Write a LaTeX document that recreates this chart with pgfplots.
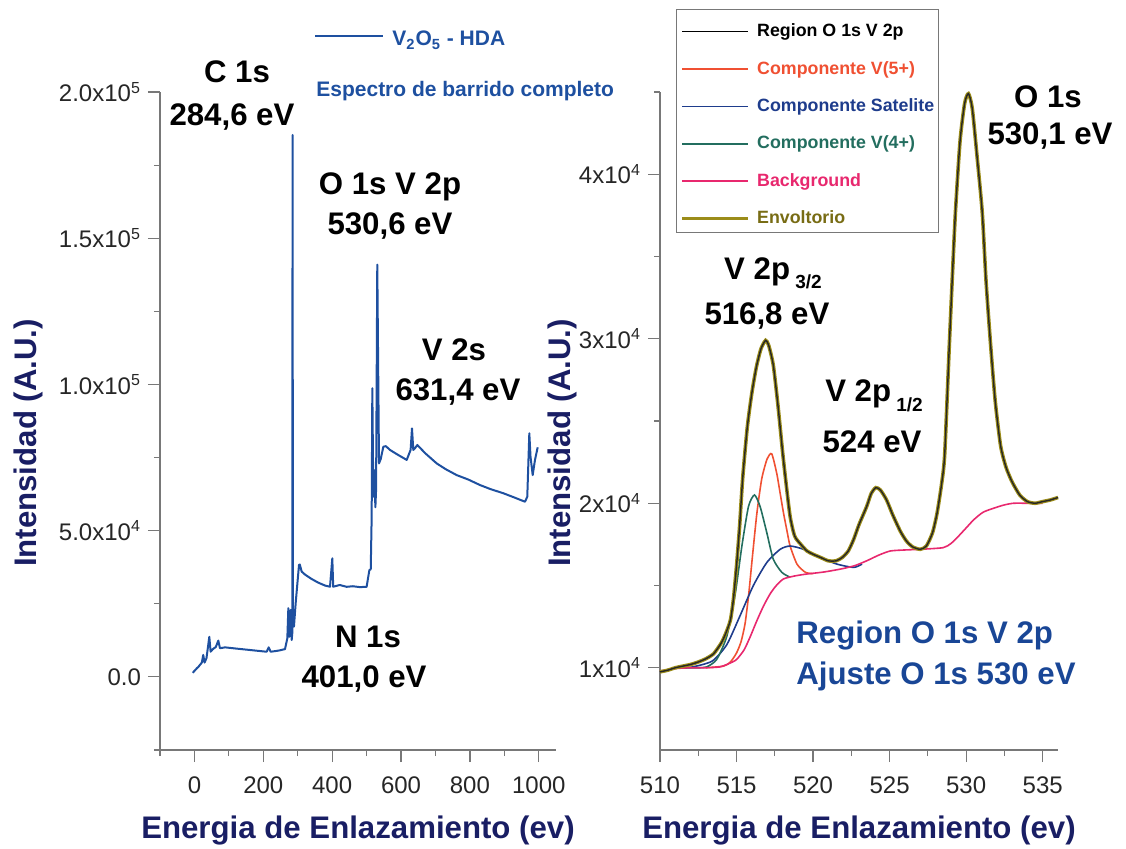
\documentclass[border=0pt]{standalone}
\usepackage{pgfplots}
\pgfplotsset{compat=1.18}
\usepackage{fontspec}
\setmainfont{Liberation Sans}
\definecolor{axisgray}{RGB}{120,120,120}
\definecolor{navy}{RGB}{25,30,100}
\definecolor{survey}{RGB}{30,80,160}
\definecolor{annblue}{RGB}{25,70,150}
\definecolor{v5}{RGB}{240,80,50}
\definecolor{sat}{RGB}{30,60,140}
\definecolor{v4}{RGB}{35,110,95}
\definecolor{bgc}{RGB}{232,40,110}
\definecolor{env}{RGB}{155,140,25}
\definecolor{envtext}{RGB}{120,108,20}
\newcommand{\bigf}{\fontsize{15.6}{18}\bfseries\selectfont}
\pgfplotsset{
  myaxis/.style={
    scale only axis,
    axis x line*=bottom, axis y line*=left,
    axis line style={draw=axisgray, line width=0.6pt},
    every tick/.style={draw=axisgray, line width=0.6pt},
    tick align=outside,
    major tick length=6pt, minor tick length=3pt,
    tick label style={font=\fontsize{12}{14}\selectfont, text=black!85},
    xticklabel style={yshift=-4pt},
    /pgf/number format/assume math mode=true,
    /pgf/number format/1000 sep={},
    scaled y ticks=false,
    clip=false,
    every axis x label/.style={at={(rel axis cs:0.5,-0.1216)}, anchor=center, font=\bigf, text=navy},
  }
}
\begin{document}
\begin{tikzpicture}
\path[use as bounding box] (0,0) rectangle (563pt,424pt);
% ---------------- left panel ----------------
\begin{axis}[myaxis,
  at={(80pt,49pt)}, anchor=south west, width=198pt, height=329pt,
  xmin=-100, xmax=1050, ymin=-25000, ymax=200000,
  xtick={0,200,400,600,800,1000}, minor xtick={-100,100,300,500,700,900},
  ytick={0,50000,100000,150000,200000},
  yticklabels={0.0,5.0x10\textsuperscript{4},1.0x10\textsuperscript{5},1.5x10\textsuperscript{5},2.0x10\textsuperscript{5}},
  minor ytick={-25000,25000,75000,125000,175000},
  xlabel={Energia de Enlazamiento (ev)},
  ylabel={Intensidad (A.U.)},
  every axis y label/.style={at={(rel axis cs:-0.333,0.4666)}, anchor=center, rotate=90, font=\bigf, text=navy},
  legend style={at={(rel axis cs:0.3889,1.0790)}, anchor=west, draw=none, fill=none, inner sep=0pt,
    font=\fontsize{10.5}{12}\bfseries\selectfont, text=survey, column sep=2pt},
  legend image code/.code={\draw[#1] (0pt,2pt) -- (34pt,2pt);},
]
\addplot[survey, line width=1pt, line join=round] coordinates {
(-5,1400) (2,2300) (6.6,2900) (12,3500) (16,4100) (21.6,4900) (25.5,7500) (29.4,4900)
(35,6400) (43.2,13700) (47,8600) (52,9300) (56.8,9800) (62,10200) (69.3,12400) (74.2,9800)
(88.8,10100) (120,9700) (161,9200) (209.8,8600) (215.6,10100) (221.4,8600) (245,9000)
(263,9500) (269.8,13200) (272.7,23500) (275.6,13700) (279.5,22900) (282.4,12600)
(284.2,15000) (285,185300) (286,22000) (289,17200) (294,25200) (299,32000) (303.7,38300)
(306,38400) (311.5,36000) (321,35000) (340,33500) (360,32200) (380,31200) (393.7,30840)
(400.4,40550) (403,30840) (422,31420) (442,30800) (460,31000) (480,30700) (500,30800)
(508,36500) (512,36800) (514.7,54800) (516.6,98700) (519.5,61600) (522,70700)
(525.5,58000) (527.5,64000) (531,141000) (536,73000) (541,74500) (548.6,78700)
(556,78900) (568,77600) (590,76000) (616.4,74200) (627.8,77600) (631.8,85000)
(635.6,77600) (640.5,78200) (647.3,79300) (670,76500) (703.5,73000) (730,71000)
(761.5,69000) (795,67500) (829.3,65600) (860,64200) (897,62800) (930,61300) (960,59900)
(966.6,61600) (972.5,83300) (976,75300) (982.3,69000) (989,74200) (996.8,78500)
};
\addlegendentry{V\textsubscript{2}O\textsubscript{5} - HDA}
\node[anchor=base, font=\bigf] at (rel axis cs:0.1944,1.0137) {C 1s};
\node[anchor=base, font=\bigf] at (rel axis cs:0.1818,0.9498) {284,6 eV};
\node[anchor=base, font=\bigf] at (rel axis cs:0.5808,0.8435) {O 1s V 2p};
\node[anchor=base, font=\bigf] at (rel axis cs:0.5808,0.7827) {530,6 eV};
\node[anchor=base, font=\bigf] at (rel axis cs:0.7424,0.5927) {V 2s};
\node[anchor=base, font=\bigf] at (rel axis cs:0.7525,0.5319) {631,4 eV};
\node[anchor=base, font=\bigf] at (rel axis cs:0.5253,0.1565) {N 1s};
\node[anchor=base, font=\bigf] at (rel axis cs:0.5152,0.0957) {401,0 eV};
\node[anchor=base west, inner sep=0pt, font=\fontsize{10.5}{12}\bfseries\selectfont, text=survey]
  at (rel axis cs:0.3939,0.9939) {Espectro de barrido completo};
\end{axis}
% ---------------- right panel ----------------
\begin{axis}[myaxis,
  at={(330pt,49pt)}, anchor=south west, width=199pt, height=329pt,
  xmin=510, xmax=536, ymin=5000, ymax=45000,
  xtick={510,515,520,525,530,535}, minor xtick={512.5,517.5,522.5,527.5,532.5},
  ytick={10000,20000,30000,40000},
  yticklabels={1x10\textsuperscript{4},2x10\textsuperscript{4},3x10\textsuperscript{4},4x10\textsuperscript{4}},
  minor ytick={15000,25000,35000,45000},
  xlabel={Energia de Enlazamiento (ev)},
  ylabel={Intensidad (A.U.)},
  every axis y label/.style={at={(rel axis cs:-0.246,0.4666)}, anchor=center, rotate=90, font=\bigf, text=navy},
  legend style={at={(rel axis cs:0.0402,1.1261)}, anchor=north west, draw=axisgray, fill=white,
    line width=0.6pt, inner xsep=2pt, inner ysep=2.5pt,
    font=\fontsize{8.9}{10}\bfseries\selectfont, row sep=5.7pt, column sep=3.5pt,
    nodes={inner sep=0pt, text height=11pt, text depth=2pt}},
  legend cell align=left,
  legend image code/.code={\draw[#1] (0pt,-2pt) -- (33pt,-2pt);},
]
\addplot[black, line width=0.7pt, smooth, tension=0.4] coordinates {
(510.0,9750) (510.5,9850) (511.0,10000) (511.5,10100) (512.0,10200) (512.5,10350) (513.0,10550)
(513.5,10850) (514.0,11500) (514.3,12100) (514.6,12900) (514.8,14200) (515.0,16200) (515.2,18600)
(515.4,21500) (515.7,24600) (516.0,26700) (516.3,28300) (516.6,29400) (516.9,29900) (517.1,29600)
(517.4,28400) (517.7,26000) (518.0,23200) (518.2,21500) (518.5,19200) (518.8,18000) (519.2,17500)
(519.6,17100) (520.0,16900) (520.5,16700) (521.0,16500) (521.5,16500) (521.9,16700) (522.3,17100)
(522.65,17800) (523.0,18700) (523.5,19800) (523.8,20600) (524.1,20950) (524.4,20800) (524.8,20200)
(525.2,19300) (525.7,18300) (526.1,17700) (526.5,17350) (527.0,17200) (527.4,17400) (527.8,18200)
(528.1,19400) (528.4,21200) (528.6,23000) (528.9,29600) (529.1,33800) (529.3,37700) (529.6,42000)
(529.9,44300) (530.15,44900) (530.4,44000) (530.7,41200) (531.05,37700) (531.3,33500) (531.6,29600)
(531.9,26200) (532.25,23500) (532.6,22200) (533.0,21300) (533.5,20500) (534.0,20100) (534.5,20000)
(535.0,20100) (535.5,20200) (536.0,20350)
};
\addlegendentry{Region O 1s V 2p}
\addplot[v5, line width=0.8pt, smooth, tension=0.4] coordinates {
(513.0,10000) (514.15,10100) (514.6,10350) (515.0,10900) (515.3,11600) (515.56,12700) (515.8,14500)
(516.0,16400) (516.33,19400) (516.65,21500) (517.0,22700) (517.3,23000) (517.63,21800) (517.85,20600)
(518.07,19400) (518.3,18300) (518.5,17400) (518.95,16300) (519.5,15800) (520.0,15720)
};
\addlegendentry{\textcolor{v5}{Componente V(5+)}}
\addplot[sat, line width=0.8pt, smooth, tension=0.4] coordinates {
(511.0,10000) (511.96,10020) (513.4,10400) (514.36,11400) (515.2,13100) (516.1,15000) (516.98,16400)
(517.85,17200) (518.5,17400) (519.38,17200) (520.47,16700) (521.56,16300) (522.65,16100) (523.2,16300)
};
\addlegendentry{\textcolor{sat}{Componente Satelite}}
\addplot[v4, line width=0.8pt, smooth, tension=0.4] coordinates {
(511.5,10000) (512.5,10000) (513.05,10050) (513.7,10500) (514.36,11900) (514.9,14400) (515.35,17400)
(515.78,19800) (516.17,20500) (516.54,19800) (516.98,18200) (517.4,16600) (517.96,15800) (518.5,15500)
};
\addlegendentry{\textcolor{v4}{Componente V(4+)}}
\addplot[bgc, line width=0.8pt, smooth, tension=0.4] coordinates {
(510.0,9800) (511.0,9950) (512.0,10000) (513.0,10000) (513.9,10050) (514.5,10250) (515.0,10500)
(515.5,11100) (515.9,11900) (516.3,12800) (516.76,13750) (517.2,14500) (517.6,15000) (518.07,15400)
(518.8,15580) (519.6,15700) (520.7,15820) (521.8,16000) (522.7,16200) (523.5,16500) (524.3,16850)
(525.05,17100) (526.0,17160) (527.0,17200) (528.5,17300) (529.0,17550) (529.4,17900) (530.0,18500)
(530.5,19000) (531.1,19450) (531.8,19700) (532.5,19900) (533.1,20000) (534.0,20000) (535.0,20000)
};
\addlegendentry{\textcolor{bgc}{Background}}
\addplot[env, line width=1.8pt, smooth, tension=0.4] coordinates {
(510.0,9750) (510.5,9850) (511.0,10000) (511.5,10100) (512.0,10200) (512.5,10350) (513.0,10550)
(513.5,10850) (514.0,11500) (514.3,12100) (514.6,12900) (514.8,14200) (515.0,16200) (515.2,18600)
(515.4,21500) (515.7,24600) (516.0,26700) (516.3,28300) (516.6,29400) (516.9,29900) (517.1,29600)
(517.4,28400) (517.7,26000) (518.0,23200) (518.2,21500) (518.5,19200) (518.8,18000) (519.2,17500)
(519.6,17100) (520.0,16900) (520.5,16700) (521.0,16500) (521.5,16500) (521.9,16700) (522.3,17100)
(522.65,17800) (523.0,18700) (523.5,19800) (523.8,20600) (524.1,20950) (524.4,20800) (524.8,20200)
(525.2,19300) (525.7,18300) (526.1,17700) (526.5,17350) (527.0,17200) (527.4,17400) (527.8,18200)
(528.1,19400) (528.4,21200) (528.6,23000) (528.9,29600) (529.1,33800) (529.3,37700) (529.6,42000)
(529.9,44300) (530.15,44900) (530.4,44000) (530.7,41200) (531.05,37700) (531.3,33500) (531.6,29600)
(531.9,26200) (532.25,23500) (532.6,22200) (533.0,21300) (533.5,20500) (534.0,20100) (534.5,20000)
(535.0,20100) (535.5,20200) (536.0,20350)
};
\addlegendentry{\textcolor{envtext}{Envoltorio}}
\addplot[black!85, line width=0.7pt, smooth, tension=0.4, forget plot] coordinates {
(510.0,9750) (510.5,9850) (511.0,10000) (511.5,10100) (512.0,10200) (512.5,10350) (513.0,10550)
(513.5,10850) (514.0,11500) (514.3,12100) (514.6,12900) (514.8,14200) (515.0,16200) (515.2,18600)
(515.4,21500) (515.7,24600) (516.0,26700) (516.3,28300) (516.6,29400) (516.9,29900) (517.1,29600)
(517.4,28400) (517.7,26000) (518.0,23200) (518.2,21500) (518.5,19200) (518.8,18000) (519.2,17500)
(519.6,17100) (520.0,16900) (520.5,16700) (521.0,16500) (521.5,16500) (521.9,16700) (522.3,17100)
(522.65,17800) (523.0,18700) (523.5,19800) (523.8,20600) (524.1,20950) (524.4,20800) (524.8,20200)
(525.2,19300) (525.7,18300) (526.1,17700) (526.5,17350) (527.0,17200) (527.4,17400) (527.8,18200)
(528.1,19400) (528.4,21200) (528.6,23000) (528.9,29600) (529.1,33800) (529.3,37700) (529.6,42000)
(529.9,44300) (530.15,44900) (530.4,44000) (530.7,41200) (531.05,37700) (531.3,33500) (531.6,29600)
(531.9,26200) (532.25,23500) (532.6,22200) (533.0,21300) (533.5,20500) (534.0,20100) (534.5,20000)
(535.0,20100) (535.5,20200) (536.0,20350)
};
\node[anchor=base, font=\bigf] at (rel axis cs:0.9749,0.9772) {O 1s};
\node[anchor=base, font=\bigf] at (rel axis cs:0.9799,0.9195) {530,1 eV};
\node[anchor=base, font=\bigf] at (rel axis cs:0.2839,0.7143) {V 2p\,\raisebox{-4.5pt}{\fontsize{9.5}{10}\selectfont 3/2}};
\node[anchor=base, font=\bigf] at (rel axis cs:0.2688,0.6459) {516,8 eV};
\node[anchor=base, font=\bigf] at (rel axis cs:0.5377,0.5289) {V 2p\,\raisebox{-5pt}{\fontsize{9.5}{10}\selectfont 1/2}};
\node[anchor=base, font=\bigf] at (rel axis cs:0.5327,0.4514) {524 eV};
\node[anchor=base west, inner sep=0pt, font=\bigf, text=annblue] at (rel axis cs:0.3417,0.1611) {Region O 1s V 2p};
\node[anchor=base west, inner sep=0pt, font=\bigf, text=annblue] at (rel axis cs:0.3417,0.1003) {Ajuste O 1s 530 eV};
\end{axis}
\end{tikzpicture}
\end{document}
